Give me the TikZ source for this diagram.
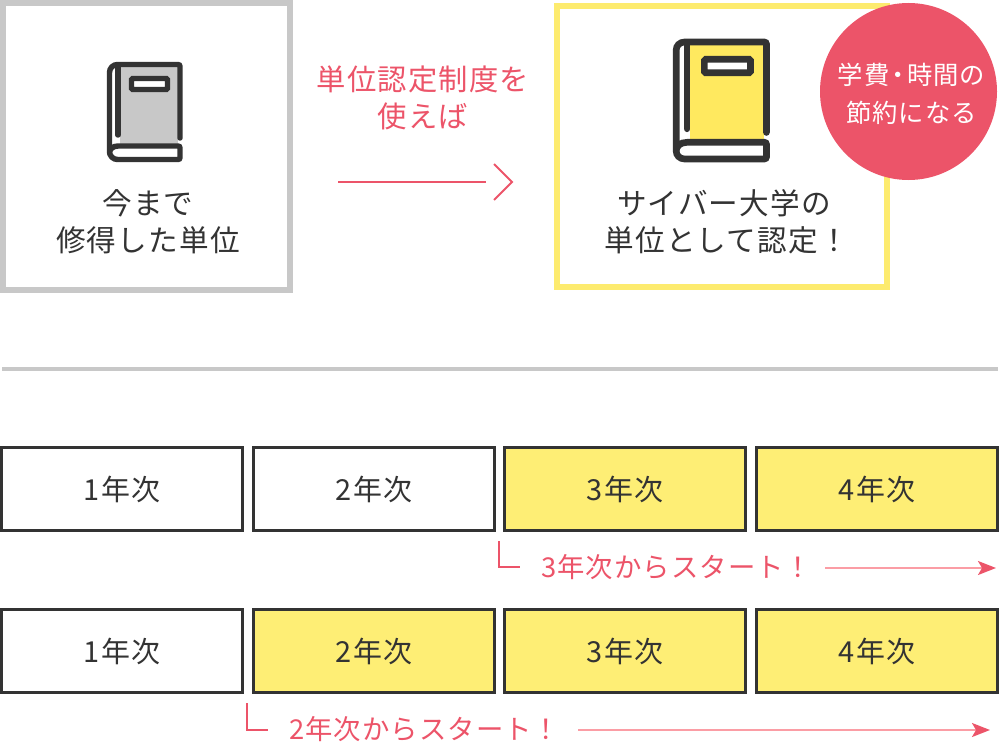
\documentclass[tikz,border=0pt]{standalone}
\usepackage{fontspec}
\setmainfont{Noto Sans CJK JP}[LetterSpace=4]
\usetikzlibrary{arrows.meta}
\definecolor{inkdark}{HTML}{333333}
\definecolor{pinkred}{HTML}{EC5469}
\definecolor{pinkpale}{HTML}{FB9DA5}
\definecolor{boxyellow}{HTML}{FEEE75}
\definecolor{bookyellow}{HTML}{FFE95F}
\definecolor{framegray}{HTML}{C8C8C8}
\definecolor{framelemon}{HTML}{FDEB6E}
\tikzset{
  year/.style={draw=inkdark,line width=2.25pt,minimum width=180.75pt,minimum height=62.25pt,inner sep=0pt,
    font=\fontsize{21.7}{26}\selectfont,text=inkdark},
  done/.style={year,fill=boxyellow},
  topbox/.style={line width=4.5pt,fill=white,inner sep=0pt},
  caption/.style={align=center,font=\fontsize{22.2}{27.75}\selectfont,text=inkdark,inner sep=0pt},
  note/.style={font=\fontsize{20.5}{26}\selectfont,text=pinkred,inner sep=0pt},
  startline/.style={pinkpale,line width=1.5pt},
  starttip/.style={-{Stealth[length=13.5pt,width=10.5pt,inset=3pt,color=pinkred]}},
  elbow/.style={pinkred,line width=1.5pt}
}
% book icon: left, top, xscale, yscale, fill, line width
\newcommand{\bookicon}[6]{
  \begin{scope}[shift={(#1,#2)},xscale=#3,yscale=#4,line width=#6,inkdark,line cap=round]
    \fill[#5] (13,2) rectangle (71,82);
    \draw (73,76) [rounded corners=1.5pt] -- (73,2.5) [rounded corners=6pt] -- (2.5,2.5) -- (2.5,97.5) [rounded corners=1.5pt] -- (73,97.5) -- (73,84) [sharp corners] -- (11,84) .. controls (6,84) and (2.5,87) .. (2.5,91);
    \draw (11,3) -- (11,73);
    \draw[fill=white,rounded corners=1pt] (24.5,16.5) rectangle (60.5,27.5);
  \end{scope}
}
\begin{document}
\begin{tikzpicture}[x=0.75pt,y=-0.75pt]
  \useasboundingbox (0,0) rectangle (999,742);
  % top boxes
  \node[topbox,draw=framegray,minimum width=215.25pt,minimum height=215.25pt] (oldbox) at (146.5,146.5) {};
  \node[topbox,draw=framelemon,minimum width=247.5pt,minimum height=210.75pt] (newbox) at (722,146.5) {};
  \bookicon{107}{62}{1}{1}{framegray}{4.1pt}
  \bookicon{673}{39}{1.28}{1.23}{bookyellow}{5pt}
  \node[caption] (oldtext) at (148,222) {今まで\\修得した単位};
  \node[caption] (newtext) at (724,222) {サイバー大学の\\\kern4pt単位として認定！};
  \node[circle,fill=pinkred,minimum size=132.75pt,inner sep=0pt] (badge) at (908.5,91.5) {};
  \node[align=center,text=white,inner sep=0pt,font=\fontsize{19}{28.5}\selectfont] (badgetext) at (911.5,94) {学費\kern-3pt・\kern-3pt時間の\\節約になる};
  \node[align=center,text=pinkred,inner sep=0pt,font=\fontsize{22}{27.75}\selectfont] (usetext) at (423,98) {単位認定制度を\\使えば};
  % top arrow
  \coordinate (arrowfrom) at (338,182);
  \coordinate (arrowto) at (486,182);
  \coordinate (tipa) at (494,164);
  \coordinate (tipb) at (512,182);
  \coordinate (tipc) at (494,200);
  \draw[pinkred,line width=1.5pt] (arrowfrom) -- (arrowto);
  \draw[pinkred,line width=1.5pt] (tipa) -- (tipb) -- (tipc);
  % divider
  \coordinate (divleft) at (2,369);
  \coordinate (divright) at (998,369);
  \draw[framegray,line width=3pt] (divleft) -- (divright);
  % first row
  \node[year] (a1) at (122,489) {1年次};
  \node[year] (a2) at (374,489) {2年次};
  \node[done] (a3) at (625,489) {3年次};
  \node[done] (a4) at (877,489) {4年次};
  \coordinate (ea) at (499,541);
  \coordinate (eb) at (499,567);
  \coordinate (ec) at (520,567);
  \draw[elbow] (ea) -- (eb) -- (ec);
  \node[note,anchor=west] (anote) at (541,567) {3年次からスタート！};
  \coordinate (afrom) at (825,568);
  \coordinate (ato) at (996,568);
  \draw[startline,starttip] (afrom) -- (ato);
  % second row
  \node[year] (b1) at (122,651) {1年次};
  \node[done] (b2) at (374,651) {2年次};
  \node[done] (b3) at (625,651) {3年次};
  \node[done] (b4) at (877,651) {4年次};
  \coordinate (fa) at (247,703);
  \coordinate (fb) at (247,730);
  \coordinate (fc) at (268,730);
  \draw[elbow] (fa) -- (fb) -- (fc);
  \node[note,anchor=west] (bnote) at (289,729) {2年次からスタート！};
  \coordinate (bfrom) at (578,730);
  \coordinate (bto) at (990,730);
  \draw[startline,starttip] (bfrom) -- (bto);
\end{tikzpicture}
\end{document}
